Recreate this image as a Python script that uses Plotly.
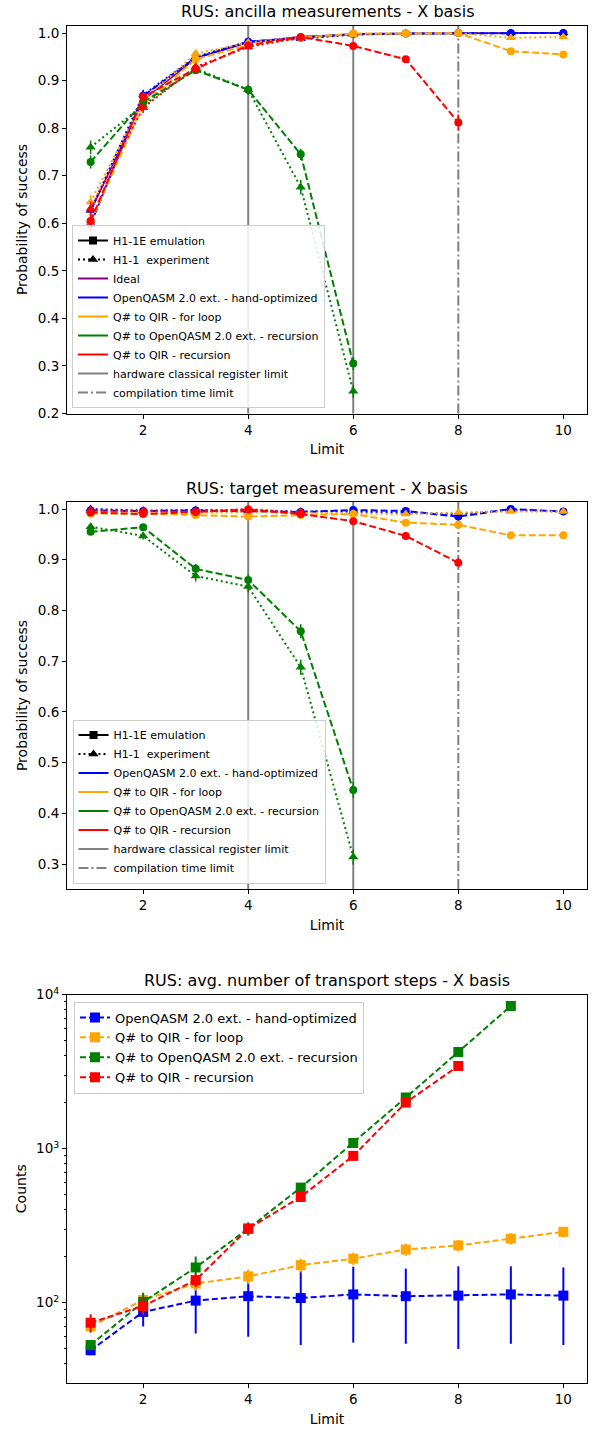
import plotly.graph_objects as go

# ---------------- data ----------------
limits = [1, 2, 3, 4, 5, 6, 7, 8, 9, 10]

# ancilla measurements (top panel)
anc_ideal = [0.625, 0.859, 0.947, 0.980, 0.993, 0.997, 0.999, 1.000, 1.000, 1.000]
anc_hand_emu = [0.598, 0.868, 0.948, 0.982, 0.990, 0.998, 0.999, 1.000, 1.000, 1.000]
anc_hand_emu_err = [0.015, 0.011, 0.007, 0.004, 0.003, 0.002, 0.001, 0.001, 0.001, 0.001]
anc_hand_exp = [0.627, 0.870, 0.950, 0.982, 0.988, 0.997, 0.999, 1.000, 1.000, 1.000]
anc_hand_exp_err = [0.015, 0.011, 0.007, 0.004, 0.003, 0.002, 0.001, 0.001, 0.001, 0.001]
anc_loop_emu = [0.603, 0.850, 0.945, 0.975, 0.990, 0.999, 0.999, 1.000, 0.962, 0.955]
anc_loop_emu_err = [0.015, 0.011, 0.007, 0.005, 0.003, 0.002, 0.001, 0.001, 0.004, 0.004]
anc_loop_exp = [0.645, 0.858, 0.957, 0.980, 0.991, 0.997, 0.999, 1.000, 0.990, 0.992]
anc_loop_exp_err = [0.015, 0.011, 0.006, 0.004, 0.003, 0.002, 0.001, 0.001, 0.003, 0.003]
anc_qasm_emu = [0.729, 0.855, 0.922, 0.881, 0.745, 0.305]
anc_qasm_emu_err = [0.014, 0.011, 0.008, 0.010, 0.012, 0.014]
anc_qasm_exp = [0.760, 0.848, 0.925, 0.881, 0.676, 0.247]
anc_qasm_exp_err = [0.014, 0.011, 0.008, 0.010, 0.015, 0.014]
anc_rec_emu = [0.605, 0.866, 0.925, 0.974, 0.992, 0.973, 0.945, 0.812]
anc_rec_emu_err = [0.015, 0.011, 0.008, 0.005, 0.003, 0.005, 0.007, 0.017]
anc_rec_exp = [0.631, 0.843, 0.929, 0.971, 0.990]
anc_rec_exp_err = [0.015, 0.011, 0.008, 0.005, 0.003]

# target measurement (middle panel)
tgt_hand_emu = [0.997, 0.996, 0.997, 0.996, 0.994, 0.998, 0.996, 0.985, 1.000, 0.995]
tgt_hand_emu_err = [0.002, 0.002, 0.002, 0.002, 0.002, 0.002, 0.002, 0.004, 0.001, 0.002]
tgt_hand_exp = [1.000, 0.997, 0.998, 0.996, 0.995, 0.995, 0.993, 0.990, 0.998, 0.995]
tgt_hand_exp_err = [0.001, 0.002, 0.002, 0.002, 0.002, 0.002, 0.003, 0.003, 0.002, 0.002]
tgt_loop_emu = [0.991, 0.991, 0.988, 0.985, 0.988, 0.990, 0.973, 0.969, 0.948, 0.948]
tgt_loop_emu_err = [0.003, 0.003, 0.003, 0.004, 0.003, 0.003, 0.005, 0.005, 0.004, 0.004]
tgt_loop_exp = [0.995, 0.995, 0.993, 0.993, 0.993, 0.991, 0.990, 0.993, 0.995, 0.995]
tgt_loop_exp_err = [0.002, 0.002, 0.003, 0.003, 0.003, 0.003, 0.003, 0.003, 0.002, 0.002]
tgt_qasm_emu = [0.955, 0.964, 0.882, 0.860, 0.759, 0.446]
tgt_qasm_emu_err = [0.006, 0.006, 0.010, 0.011, 0.014, 0.016]
tgt_qasm_exp = [0.965, 0.947, 0.868, 0.847, 0.688, 0.314]
tgt_qasm_exp_err = [0.006, 0.007, 0.011, 0.011, 0.015, 0.015]
tgt_rec_emu = [0.993, 0.990, 0.994, 0.999, 0.990, 0.976, 0.947, 0.894]
tgt_rec_emu_err = [0.003, 0.003, 0.003, 0.001, 0.003, 0.005, 0.007, 0.010]
tgt_rec_exp = [0.997, 0.996, 0.995, 1.000, 0.993]
tgt_rec_exp_err = [0.002, 0.002, 0.002, 0.001, 0.003]

# avg. number of transport steps (bottom panel)
steps_hand = [49, 87, 103, 110, 107, 113, 110, 111, 113, 111]
steps_hand_err = [3, 17, 40, 50, 54, 58, 56, 61, 59, 58]
steps_loop = [70, 104, 133, 148, 175, 193, 221, 235, 260, 288]
steps_loop_err = [6, 10, 14, 16, 18, 18, 20, 20, 22, 22]
steps_qasm = [53, 101, 169, 302, 558, 1087, 2145, 4236, 8430]
steps_qasm_err = [4, 15, 30, 30, 30, 40, 60, 80, 120]
steps_rec = [74, 95, 140, 302, 485, 896, 1987, 3436]
steps_rec_err = [10, 12, 14, 25, 25, 30, 50, 60]

prob_ticks = [0.2, 0.3, 0.4, 0.5, 0.6, 0.7, 0.8, 0.9, 1.0]
limit_ticks = [2, 4, 6, 8, 10]
count_ticks = [100, 1000, 10000]
count_ticklabels = ["10<sup>2</sup>", "10<sup>3</sup>", "10<sup>4</sup>"]

names = ["OpenQASM 2.0 ext. - hand-optimized", "Q# to QIR - for loop",
         "Q# to OpenQASM 2.0 ext. - recursion", "Q# to QIR - recursion"]
colors = ["#0000ff", "#ffa500", "#008000", "#ff0000"]
IDEAL_COLOR = "#800080"
GRAY = "#808080"

FONT = "DejaVu Sans"
DASH = "7px,3px"
DOT = "2px,3px"
DASHDOT = "10px,3px,2px,3px"

W, H = 595, 1430
fig = go.Figure()


def px_x(s):
    return s / W


def px_y(s):
    return 1 - s / H


def add_series(xa, ya, y, err, color, emu):
    xs = limits[:len(y)]
    fig.add_trace(go.Scatter(
        x=xs, y=y, xaxis=xa, yaxis=ya, mode="lines+markers",
        line=dict(color=color, width=2, dash=DASH if emu else DOT),
        marker=dict(symbol="circle" if emu else "triangle-up",
                    size=8 if emu else 9, color=color),
        error_y=dict(type="data", array=err, color=color, thickness=1.5, width=0),
        showlegend=False, hoverinfo="skip"))


# ---- top panel ----
fig.add_trace(go.Scatter(x=limits, y=anc_ideal, xaxis="x", yaxis="y", mode="lines",
                         line=dict(color=IDEAL_COLOR, width=1.5), showlegend=False))
top = [(anc_hand_emu, anc_hand_emu_err, anc_hand_exp, anc_hand_exp_err),
       (anc_loop_emu, anc_loop_emu_err, anc_loop_exp, anc_loop_exp_err),
       (anc_qasm_emu, anc_qasm_emu_err, anc_qasm_exp, anc_qasm_exp_err),
       (anc_rec_emu, anc_rec_emu_err, anc_rec_exp, anc_rec_exp_err)]
for (e, ee, x_, xe), c in zip(top, colors):
    add_series("x", "y", x_, xe, c, False)
    add_series("x", "y", e, ee, c, True)

# ---- middle panel ----
mid = [(tgt_hand_emu, tgt_hand_emu_err, tgt_hand_exp, tgt_hand_exp_err),
       (tgt_loop_emu, tgt_loop_emu_err, tgt_loop_exp, tgt_loop_exp_err),
       (tgt_qasm_emu, tgt_qasm_emu_err, tgt_qasm_exp, tgt_qasm_exp_err),
       (tgt_rec_emu, tgt_rec_emu_err, tgt_rec_exp, tgt_rec_exp_err)]
for (e, ee, x_, xe), c in zip(mid, colors):
    add_series("x2", "y2", x_, xe, c, False)
    add_series("x2", "y2", e, ee, c, True)

# ---- bottom panel ----
bot = [(steps_hand, steps_hand_err), (steps_loop, steps_loop_err),
       (steps_qasm, steps_qasm_err), (steps_rec, steps_rec_err)]
for (v, ve), c, n in zip(bot, colors, names):
    fig.add_trace(go.Scatter(
        x=limits[:len(v)], y=v, xaxis="x3", yaxis="y3", mode="lines+markers", name=n,
        line=dict(color=c, width=2, dash="6px,3px"),
        marker=dict(symbol="square", size=10, color=c),
        error_y=dict(type="data", array=ve, color=c, thickness=2, width=0),
        legend="legend3", hoverinfo="skip"))


# ---- legend-only entries for top & middle ----
def legend_entries(leg, with_ideal):
    fig.add_trace(go.Scatter(x=[None], y=[None], mode="lines+markers", name="H1-1E emulation",
                             line=dict(color="black", width=2),
                             marker=dict(symbol="square", size=8, color="black"), legend=leg))
    fig.add_trace(go.Scatter(x=[None], y=[None], mode="lines+markers", name="H1-1  experiment",
                             line=dict(color="black", width=2, dash=DOT),
                             marker=dict(symbol="triangle-up", size=9, color="black"), legend=leg))
    if with_ideal:
        fig.add_trace(go.Scatter(x=[None], y=[None], mode="lines", name="Ideal",
                                 line=dict(color=IDEAL_COLOR, width=2), legend=leg))
    for n, c in zip(names, colors):
        fig.add_trace(go.Scatter(x=[None], y=[None], mode="lines", name=n,
                                 line=dict(color=c, width=2), legend=leg))
    fig.add_trace(go.Scatter(x=[None], y=[None], mode="lines", name="hardware classical register limit",
                             line=dict(color=GRAY, width=2), legend=leg))
    fig.add_trace(go.Scatter(x=[None], y=[None], mode="lines", name="compilation time limit",
                             line=dict(color=GRAY, width=2, dash=DASHDOT), legend=leg))


legend_entries("legend", True)
legend_entries("legend2", False)

# ---- vertical limit lines ----
register_limits = [4, 6]
compile_limit = [8]
shapes = []
for xref, yref in [("x", "y domain"), ("x2", "y2 domain")]:
    for xv in register_limits:
        shapes.append(dict(type="line", xref=xref, yref=yref, x0=xv, x1=xv, y0=0, y1=1,
                           line=dict(color=GRAY, width=2), layer="below"))
    for xv in compile_limit:
        shapes.append(dict(type="line", xref=xref, yref=yref, x0=xv, x1=xv, y0=0, y1=1,
                           line=dict(color=GRAY, width=2, dash=DASHDOT), layer="below"))

# ---- axes ----
XDOM = [px_x(67), px_x(587)]
tickfont = dict(family=FONT, size=13.5, color="black")
titlefont = dict(family=FONT, size=14, color="black")


def xaxis(anchor):
    return dict(domain=XDOM, anchor=anchor, range=[0.55, 10.45], tickvals=limit_ticks,
                showline=True, mirror=True, linecolor="black", linewidth=1,
                ticks="outside", ticklen=4, tickcolor="black", showgrid=False, zeroline=False,
                tickfont=tickfont, automargin=False,
                title=dict(text="Limit", font=titlefont, standoff=7))


def yaxis_prob(anchor, dom, rng):
    return dict(domain=dom, anchor=anchor, range=rng, tickvals=prob_ticks, tickformat=".1f",
                showline=True, mirror=True, linecolor="black", linewidth=1,
                ticks="outside", ticklen=4, tickcolor="black", showgrid=False, zeroline=False,
                tickfont=tickfont, automargin=False,
                title=dict(text="Probability of success", font=titlefont, standoff=6))


minor_vals = [m * d for d in [10, 100, 1000] for m in range(2, 10)]

legfont = dict(family=FONT, size=11, color="black")
titles = ["RUS: ancilla measurements - X basis", "RUS: target measurement - X basis",
          "RUS: avg. number of transport steps - X basis"]
title_y = [12, 488, 980]

fig.update_layout(
    width=W, height=H, margin=dict(l=0, r=0, t=0, b=0, pad=0, autoexpand=False),
    paper_bgcolor="white", plot_bgcolor="white",
    font=dict(family=FONT, color="black"),
    xaxis=xaxis("y"), xaxis2=xaxis("y2"), xaxis3=xaxis("y3"),
    yaxis=yaxis_prob("x", [px_y(413.5), px_y(25.5)], [0.2, 1.016]),
    yaxis2=yaxis_prob("x2", [px_y(889), px_y(502)], [0.2507, 1.0138]),
    yaxis3=dict(domain=[px_y(1383), px_y(994.5)], anchor="x3", type="log",
                range=[1.478, 4.0], tickvals=count_ticks, ticktext=count_ticklabels,
                showline=True, mirror=True, linecolor="black", linewidth=1,
                ticks="outside", ticklen=4, tickcolor="black", showgrid=False, zeroline=False,
                tickfont=tickfont, automargin=False,
                minor=dict(tickvals=minor_vals, ticks="outside", ticklen=2, tickcolor="black",
                           showgrid=False),
                title=dict(text="Counts", font=titlefont, standoff=6)),
    legend=dict(x=px_x(72), y=px_y(408), xanchor="left", yanchor="bottom",
                bgcolor="rgba(255,255,255,0.85)", bordercolor="#cccccc", borderwidth=1,
                font=legfont, itemwidth=30, tracegroupgap=0),
    legend2=dict(x=px_x(72.5), y=px_y(883.5), xanchor="left", yanchor="bottom",
                 bgcolor="rgba(255,255,255,0.85)", bordercolor="#cccccc", borderwidth=1,
                 font=legfont, itemwidth=30, tracegroupgap=0),
    legend3=dict(x=px_x(74), y=px_y(1001.5), xanchor="left", yanchor="top",
                 bgcolor="rgba(255,255,255,0.85)", bordercolor="#cccccc", borderwidth=1,
                 font=dict(family=FONT, size=13, color="black"), itemwidth=30, tracegroupgap=0),
    shapes=shapes,
    annotations=[dict(text=t, x=px_x(327), y=px_y(ty), xref="paper", yref="paper",
                      xanchor="center", yanchor="middle", showarrow=False,
                      font=dict(family=FONT, size=16, color="black"))
                 for t, ty in zip(titles, title_y)],
)

# remove the default page margin so the figure sits at the window's top-left corner
fig.write_html("out.html", config={"displayModeBar": False},
               post_script="document.body.style.margin='0';")
